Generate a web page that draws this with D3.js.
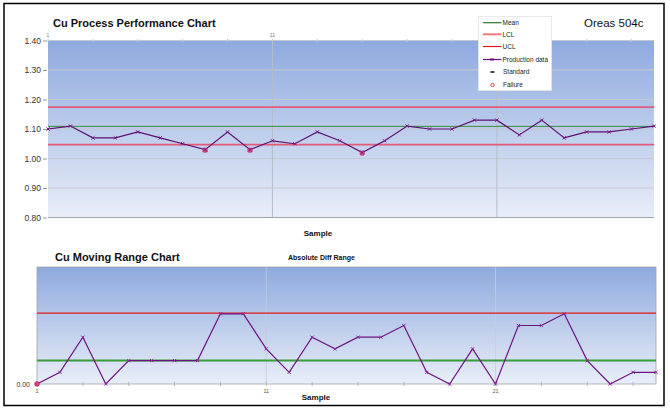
<!DOCTYPE html>
<html><head><meta charset="utf-8">
<script src="https://cdn.jsdelivr.net/npm/d3@7"></script>
<style>body{margin:0;background:#fff}svg{display:block;font-family:"Liberation Sans",Arial,sans-serif}</style>
</head><body><svg id="c" width="670" height="410"></svg>
<script>
const samples = d3.range(1, 29);
const cuValues = [1.10,1.11,1.07,1.07,1.09,1.07,1.05,1.03,1.09,1.03,1.06,1.05,1.09,1.06,1.02,1.06,1.11,1.10,1.10,1.13,1.13,1.08,1.13,1.07,1.09,1.09,1.10,1.11];
const meanValue = 1.109, lclValue = 1.047, uclValue = 1.174;
const yTicks = [0.80,0.90,1.00,1.10,1.20,1.30,1.40];
const xTickLabels = [1, 11, 21];
const mrValues = [0,0.01,0.04,0,0.02,0.02,0.02,0.02,0.06,0.06,0.03,0.01,0.04,0.03,0.04,0.04,0.05,0.01,0,0.03,0,0.05,0.05,0.06,0.02,0,0.01,0.01];
const mrMean = 0.02, mrUcl = 0.0605;
const legendItems = ["Mean","LCL","UCL","Production data","Standard","Failure"];

const svg = d3.select("#c");
const defs = svg.append("defs");
const g1 = defs.append("linearGradient").attr("id","bg").attr("x1",0).attr("y1",0).attr("x2",0).attr("y2",1);
g1.append("stop").attr("offset","0%").attr("stop-color","#8eaade");
g1.append("stop").attr("offset","100%").attr("stop-color","#e9eef8");

// outer border
svg.append("rect").attr("x",4).attr("y",3.5).attr("width",660).attr("height",402).attr("fill","#fff").attr("stroke","#000").attr("stroke-width",1.5);

// ---------- Top chart ----------
const x1 = d3.scaleLinear().domain([1,28]).range([48,654]);
const y1 = d3.scaleLinear().domain([0.8,1.4]).range([217.5,40.5]);
svg.append("rect").attr("x",48).attr("y",40.5).attr("width",606).attr("height",177).attr("fill","url(#bg)");
svg.append("g").selectAll("line").data(yTicks).join("line")
  .attr("x1",48).attr("x2",654).attr("y1",d=>y1(d)).attr("y2",d=>y1(d))
  .attr("stroke","#c4c8d0").attr("stroke-width",1);
svg.append("g").selectAll("line").data([11,21]).join("line")
  .attr("x1",d=>x1(d)).attr("x2",d=>x1(d)).attr("y1",40.5).attr("y2",217.5)
  .attr("stroke","#b8bcc6").attr("stroke-width",1);
svg.append("line").attr("x1",48).attr("x2",654).attr("y1",217.5).attr("y2",217.5).attr("stroke","#a0a4ac");
const ya = d3.axisLeft(y1).tickValues(yTicks).tickFormat(d3.format(".2f")).tickSize(4).tickPadding(2);
const yag = svg.append("g").attr("transform","translate(47,0)").call(ya);
yag.select(".domain").remove();
yag.selectAll("line").attr("stroke","#999");
yag.selectAll("text").attr("font-size",8.5).attr("fill","#333").attr("font-family","Liberation Sans, Arial");
svg.append("g").selectAll("line").data(d3.range(1,29,2)).join("line")
  .attr("x1",d=>x1(d)).attr("x2",d=>x1(d)).attr("y1",39).attr("y2",42).attr("stroke","#c0c6d4");
svg.append("g").selectAll("text").data(xTickLabels).join("text")
  .attr("x",d=>x1(d)).attr("y",37).attr("text-anchor","middle").attr("font-size",5).attr("fill","#777").text(d=>d);
[[uclValue,"#e25a78",1.8],[lclValue,"#e25a78",1.8],[meanValue,"#3a8a3a",1]].forEach(([v,c,w])=>{
  svg.append("line").attr("x1",48).attr("x2",654).attr("y1",y1(v)).attr("y2",y1(v)).attr("stroke",c).attr("stroke-width",w);
});
const line1 = d3.line().x((d,i)=>x1(samples[i])).y(d=>y1(d));
svg.append("path").datum(cuValues).attr("d",line1).attr("fill","none").attr("stroke","#5a1070").attr("stroke-width",1.2);
const marker = (sel, xs, ys, data, color) => {
  sel.selectAll("path.m").data(data).join("path").attr("class","m")
    .attr("d",(d,i)=>`M${xs(i)-1.6},${ys(d)-1.6}L${xs(i)+1.6},${ys(d)+1.6}M${xs(i)-1.6},${ys(d)+1.6}L${xs(i)+1.6},${ys(d)-1.6}`)
    .attr("stroke",color).attr("stroke-width",1);
};
marker(svg.append("g"), i=>x1(samples[i]), d=>y1(d), cuValues, "#7a1a8a");
svg.append("g").selectAll("rect").data(cuValues.map((v,i)=>({v,i})).filter(d=>d.v<lclValue)).join("rect")
  .attr("x",d=>x1(samples[d.i])-2.2).attr("y",d=>y1(d.v)-1.7).attr("width",4.4).attr("height",4.4).attr("rx",1.2)
  .attr("fill","#d84a80").attr("stroke","#b02060").attr("stroke-width",0.5);
marker(svg.append("g"), i=>x1(samples[i]), d=>y1(d), cuValues.map(v=>v<lclValue?v:NaN), "#7a1a8a");
svg.append("text").attr("x",53).attr("y",27).attr("font-size",11).attr("font-weight","bold").attr("fill","#111").text("Cu  Process Performance Chart");
svg.append("text").attr("x",584).attr("y",26.5).attr("font-size",11.5).attr("fill","#111").text("Oreas 504c");
svg.append("text").attr("x",318).attr("y",236).attr("text-anchor","middle").attr("font-size",8).attr("font-weight","bold").attr("fill","#111").text("Sample");

// legend
const lg = svg.append("g");
lg.append("rect").attr("x",478.5).attr("y",16.5).attr("width",73).attr("height",74).attr("fill","#fff").attr("stroke","#e4e4e4").attr("stroke-width",0.8);
const ly = [22.7,34.3,46.5,59.5,72,85];
const lcols = ["#2a7a2a","#f07a80","#e01818","#6a1080"];
legendItems.forEach((t,i)=>{
  const y = ly[i];
  if(i<4){
    lg.append("line").attr("x1",483).attr("x2",501.5).attr("y1",y).attr("y2",y).attr("stroke",lcols[i]).attr("stroke-width",i==1?2:1.2);
    if(i==3){ lg.append("path").attr("d",`M490.5,${y-1.5}L493.5,${y+1.5}M490.5,${y+1.5}L493.5,${y-1.5}`).attr("stroke","#6a1080").attr("stroke-width",1); }
    lg.append("text").attr("x",502.5).attr("y",y+2.3).attr("font-size",6.5).attr("fill","#222").text(t);
  } else if(i==4){
    lg.append("line").attr("x1",490.5).attr("x2",494.5).attr("y1",y).attr("y2",y).attr("stroke","#111").attr("stroke-width",1.5);
    lg.append("text").attr("x",503).attr("y",y+2.3).attr("font-size",6.5).attr("fill","#222").text(t);
  } else {
    lg.append("circle").attr("cx",492.5).attr("cy",y).attr("r",1.7).attr("fill","none").attr("stroke","#e03030").attr("stroke-width",0.9);
    lg.append("text").attr("x",503).attr("y",y+2.3).attr("font-size",6.5).attr("fill","#222").text(t);
  }
});

// ---------- Bottom chart ----------
const x2 = d3.scaleLinear().domain([1,28]).range([37,656]);
const y2 = d3.scaleLinear().domain([0,0.1]).range([384,267]);
svg.append("rect").attr("x",37).attr("y",267).attr("width",619).attr("height",117).attr("fill","url(#bg)").attr("stroke","#a0a4ac").attr("stroke-width",0.8);
svg.append("g").selectAll("line").data([11,21]).join("line")
  .attr("x1",d=>x2(d)).attr("x2",d=>x2(d)).attr("y1",267).attr("y2",384).attr("stroke","#c8ccd4").attr("stroke-width",0.8);
svg.append("g").selectAll("line").data(d3.range(1,29,2)).join("line")
  .attr("x1",d=>x2(d)).attr("x2",d=>x2(d)).attr("y1",382).attr("y2",386).attr("stroke","#b0b4bc");
svg.append("line").attr("x1",37).attr("x2",656).attr("y1",y2(mrUcl)).attr("y2",y2(mrUcl)).attr("stroke","#e01818").attr("stroke-width",1.3);
svg.append("line").attr("x1",37).attr("x2",656).attr("y1",y2(mrMean)).attr("y2",y2(mrMean)).attr("stroke","#3a9a3a").attr("stroke-width",2);
const line2 = d3.line().x((d,i)=>x2(samples[i])).y(d=>y2(d));
svg.append("path").datum(mrValues).attr("d",line2).attr("fill","none").attr("stroke","#6a1480").attr("stroke-width",1.2);
marker(svg.append("g"), i=>x2(samples[i]), d=>y2(d), mrValues, "#8a2a9a");
svg.append("circle").attr("cx",x2(1)).attr("cy",y2(mrValues[0])).attr("r",2.4).attr("fill","#d8407a").attr("stroke","#b02060").attr("stroke-width",0.6);
svg.append("text").attr("x",30).attr("y",387).attr("text-anchor","end").attr("font-size",7).attr("fill","#333").text("0.00");
svg.append("g").selectAll("text").data(xTickLabels).join("text")
  .attr("x",d=>x2(d)).attr("y",393).attr("text-anchor","middle").attr("font-size",5.5).attr("fill","#555").text(d=>d);
svg.append("text").attr("x",55).attr("y",261).attr("font-size",11).attr("font-weight","bold").attr("fill","#111").text("Cu Moving Range Chart");
svg.append("text").attr("x",288).attr("y",260).attr("font-size",7).attr("font-weight","bold").attr("fill","#111").text("Absolute Diff Range");
svg.append("text").attr("x",316).attr("y",399.5).attr("text-anchor","middle").attr("font-size",8).attr("font-weight","bold").attr("fill","#111").text("Sample");
</script></body></html>
